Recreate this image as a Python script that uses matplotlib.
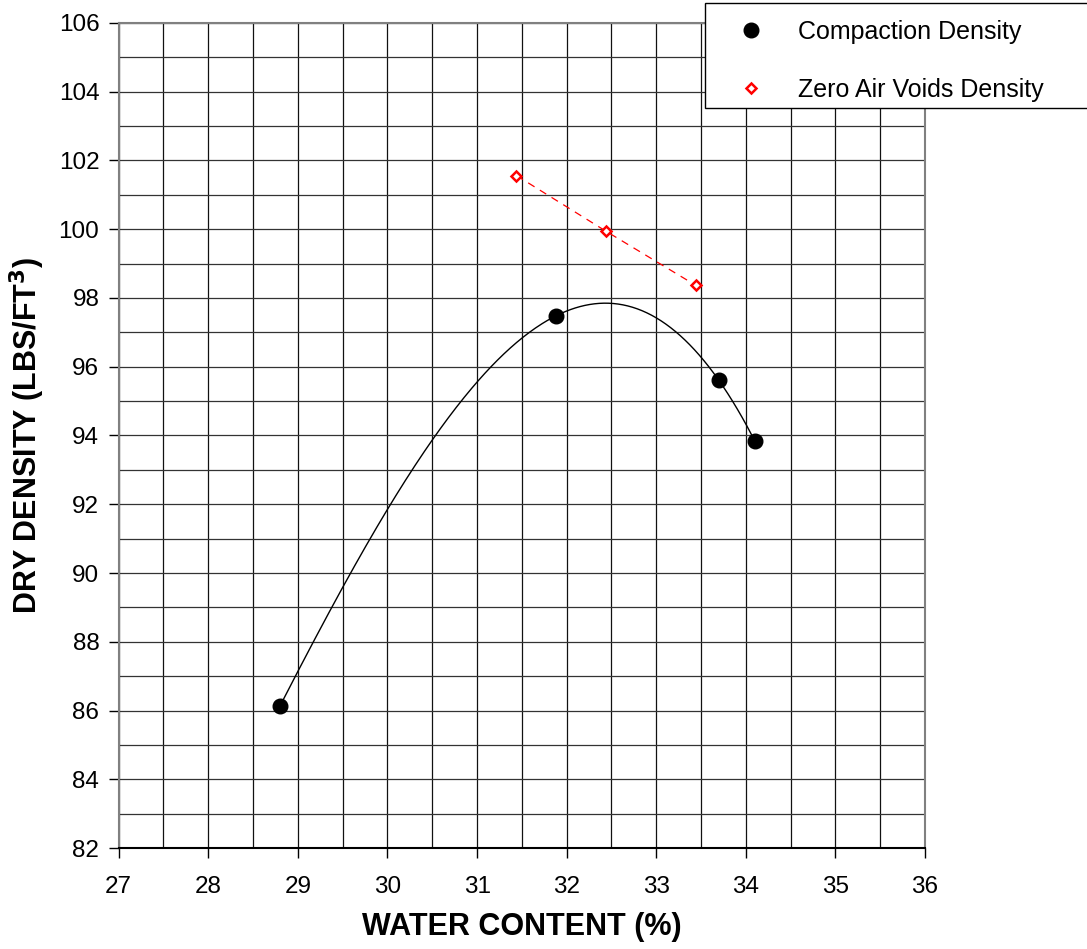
import matplotlib
matplotlib.use('Agg')
import matplotlib.pyplot as plt
from matplotlib.patches import Rectangle
import numpy as np

plt.rcParams['font.family'] = ['Liberation Sans', 'DejaVu Sans']

# Compaction test points
water_content = [28.8, 31.88, 33.7, 34.1]
dry_density = [86.13, 97.48, 95.6, 93.84]

# Zero air voids points
zav_water = [31.44, 32.44, 33.44]
zav_density = [101.56, 99.94, 98.37]

x_ticks = list(range(27, 37))
y_ticks = list(range(82, 107, 2))

W, H = 1087, 949
fig = plt.figure(figsize=(W / 100, H / 100), dpi=100)
ax = fig.add_axes([0.1092, 0.1064, 0.7418, 0.8694])

# grid: x every 0.5, y every 1
for gx in np.arange(27, 36.01, 0.5):
    ax.axvline(gx, color='#111111', linewidth=0.9, zorder=1)
for gy in np.arange(82, 106.01, 1):
    ax.axhline(gy, color='#333333', linewidth=0.9, zorder=1)

# smooth trend curve (3rd order polynomial through points)
coef = np.polyfit(water_content, dry_density, 3)
xs = np.linspace(min(water_content), max(water_content), 300)
ax.plot(xs, np.polyval(coef, xs), color='black', linewidth=1.0, zorder=3)

ax.plot(water_content, dry_density, 'o', color='black', markersize=10.5,
        zorder=4, label='Compaction Density')
ax.plot(zav_water, zav_density, color='red', linestyle=(0, (6, 5)),
        linewidth=0.9, zorder=3)
ax.plot(zav_water, zav_density, 'D', markerfacecolor='white',
        markeredgecolor='red', markeredgewidth=1.8, markersize=5.5,
        linestyle='none', zorder=4, label='Zero Air Voids Density')

ax.set_xlim(27, 36)
ax.set_ylim(82, 106)
ax.set_xticks(x_ticks)
ax.set_yticks(y_ticks)
ax.tick_params(direction='out', length=7, width=1, labelsize=17.5)
ax.tick_params(axis='x', pad=13)
ax.tick_params(axis='y', pad=7)

for side in ['top', 'right', 'left']:
    ax.spines[side].set_color('#808080')
    ax.spines[side].set_linewidth(1.5)
ax.spines['bottom'].set_color('black')
ax.spines['bottom'].set_linewidth(1.5)

ax.set_xlabel('WATER CONTENT (%)', fontsize=22, fontweight='bold', labelpad=10)
ax.set_ylabel('DRY DENSITY (LBS/FT$^\\mathbf{3}$)', fontsize=22, fontweight='bold', labelpad=8)

# legend box runs past the right edge of the figure
box = Rectangle((705 / W, 1 - 108 / H), 400 / W, 105 / H, transform=fig.transFigure,
                facecolor='white', edgecolor='black', linewidth=1.0, zorder=5)
fig.patches.append(box)
leg = fig.legend(loc='upper left', bbox_to_anchor=(705 / W, 1 - 5 / H),
                 fontsize=18, frameon=False,
                 borderpad=0.6, labelspacing=1.35, handletextpad=0.6,
                 borderaxespad=0, handlelength=2.5)
leg.set_zorder(6)

fig.savefig('out.png', dpi=100)
